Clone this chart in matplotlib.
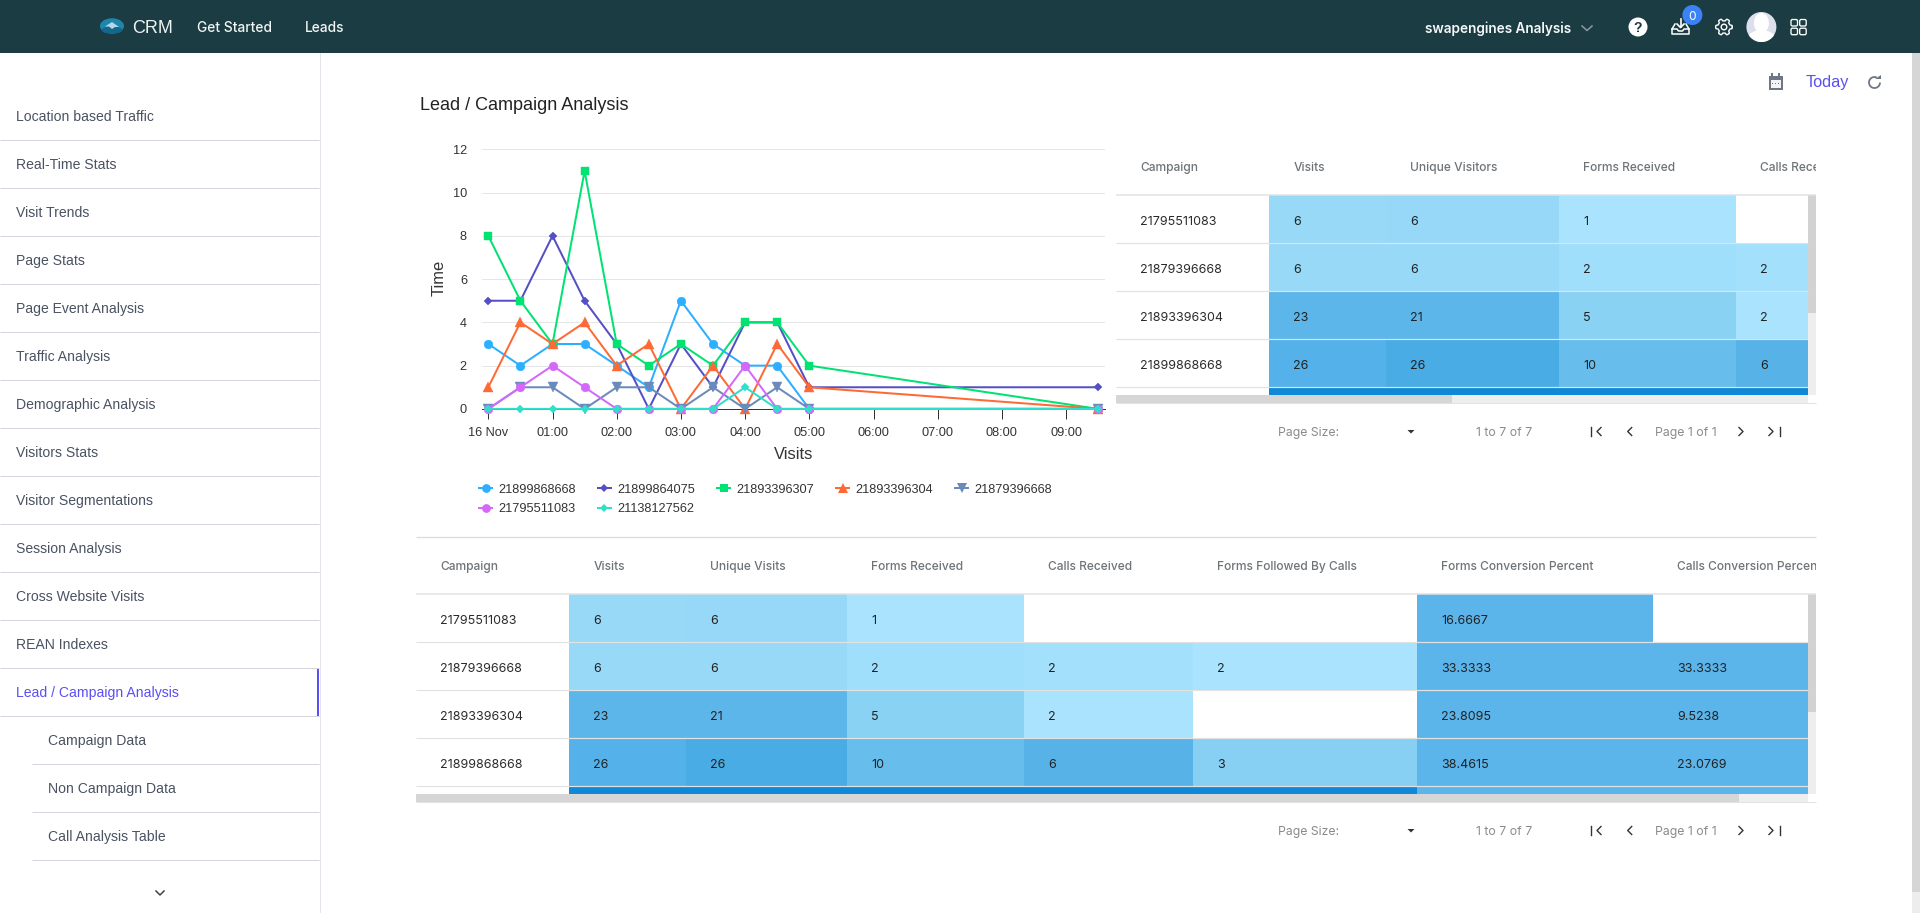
import numpy as np
import matplotlib
matplotlib.use("Agg")
import matplotlib.pyplot as plt
from matplotlib.patches import Rectangle, Circle, Ellipse, FancyBboxPatch, Polygon, Arc

W, H = 1920, 913
# ------------------------------------------------------------- data
hours = [0, 0.5, 1, 1.5, 2, 2.5, 3, 3.5, 4, 4.5, 5, 9.5]
hour_ticks = [0, 1, 2, 3, 4, 5, 6, 7, 8, 9]
hour_labels = ["16 Nov", "01:00", "02:00", "03:00", "04:00", "05:00", "06:00", "07:00", "08:00", "09:00"]
series_names = ["21899868668", "21899864075", "21893396307", "21893396304", "21879396668", "21795511083", "21138127562"]
s_21899868668 = [3, 2, 3, 3, 2, 1, 5, 3, 2, 2, 0, 0]
s_21899864075 = [5, 5, 8, 5, 3, 0, 3, 1, 4, 4, 1, 1]
s_21893396307 = [8, 5, 3, 11, 3, 2, 3, 2, 4, 4, 2, 0]
s_21893396304 = [1, 4, 3, 4, 2, 3, 0, 2, 0, 3, 1, 0]
s_21879396668 = [0, 1, 1, 0, 1, 1, 0, 1, 0, 1, 0, 0]
s_21795511083 = [0, 1, 2, 1, 0, 0, 0, 0, 2, 0, 0, 0]
s_21138127562 = [0, 0, 0, 0, 0, 0, 0, 0, 1, 0, 0, 0]
series_values = [s_21899868668, s_21899864075, s_21893396307, s_21893396304, s_21879396668, s_21795511083, s_21138127562]

campaigns = ["21795511083", "21879396668", "21893396304", "21899868668"]
visits = ["6", "6", "23", "26"]
unique_visits = ["6", "6", "21", "26"]
forms_received = ["1", "2", "5", "10"]
calls_received = ["", "2", "2", "6"]
forms_by_calls = ["", "2", "", "3"]
forms_pct = ["16.6667", "33.3333", "23.8095", "38.4615"]
calls_pct = ["", "33.3333", "9.5238", "23.0769"]

nav_main = ["Location based Traffic", "Real-Time Stats", "Visit Trends", "Page Stats", "Page Event Analysis",
            "Traffic Analysis", "Demographic Analysis", "Visitors Stats", "Visitor Segmentations",
            "Session Analysis", "Cross Website Visits", "REAN Indexes", "Lead / Campaign Analysis"]
nav_sub = ["Campaign Data", "Non Campaign Data", "Call Analysis Table"]

# ------------------------------------------------------------- styles
S_COL = ["#2caffe", "#544fc5", "#00e272", "#fe6a35", "#6b8abc", "#d568fb", "#2ee0ca"]
S_MRK = ["o", "D", "s", "^", "v", "o", "D"]
S_MS = [6.3, 4.3, 6.3, 7.2, 7.2, 6.3, 4.3]
C_VIS = ["#98d9f8", "#98d9f8", "#5db6ea", "#54b1e9"]
C_UNI = ["#97d8f8", "#98d9f8", "#5db6ea", "#49ace5"]
C_FRM = ["#a9e3fd", "#a0dffb", "#89d2f4", "#67bdec"]
C_CAL = [None, "#a3e0fc", "#a9e3fd", "#57b2e7"]
C_FBC = [None, "#a9e3fd", None, "#87cff3"]
C_PCT = ["#5bb4ea", "#5bb4ea", "#5bb4ea", "#5bb4ea"]
C_CPC = [None, "#5bb4ea", "#5bb4ea", "#5bb4ea"]
DARK = "#1088d8"
HEAD = "#1b3c42"
UI_FONT = "Inter"
px = 0.72

fig = plt.figure(figsize=(W / 100, H / 100), dpi=100, facecolor="white")

# ------------------------------------------------------------- chart
L, R, T0, B0 = 482, 1104.8, 149.3, 408.9
ax = fig.add_axes([L / W, 1 - B0 / H, (R - L) / W, (B0 - T0) / H], zorder=3)
ax.patch.set_alpha(0)
pxh = 64.2
ax.set_xlim((L - 488.3) / pxh, (R - 488.3) / pxh)
ax.set_ylim(0, 12)
for i, (vals, col, m, ms) in enumerate(zip(series_values, S_COL, S_MRK, S_MS)):
    ax.plot(hours, vals, color=col, lw=2 * px, marker=m, ms=ms, mec=col, mew=0.3, clip_on=False, zorder=3 + i,
            solid_joinstyle="round")
ax.set_yticks([0, 2, 4, 6, 8, 10, 12])
ax.set_xticks(hour_ticks)
ax.set_xticklabels(hour_labels, fontfamily="Liberation Sans", fontsize=12.8 * px, color="#333333")
ax.tick_params(axis="x", length=10 * px, width=1 * px, color="#333333", pad=8 * px)
ax.tick_params(axis="y", length=0, pad=15 * px)
for t in ax.get_yticklabels():
    t.set_fontfamily("Liberation Sans"); t.set_fontsize(12.8 * px); t.set_color("#333333")
ax.grid(axis="y", color="#e6e6e6", lw=1 * px)
ax.set_axisbelow(True)
for k in ("top", "left", "right"):
    ax.spines[k].set_visible(False)
ax.spines["bottom"].set_color("#333333"); ax.spines["bottom"].set_linewidth(1 * px)
ax.spines["bottom"].set_zorder(2.5)
ax.set_xlabel("Visits", fontfamily="Liberation Sans", fontsize=16.5 * px, color="#333333")
ax.xaxis.set_label_coords((794 - L) / (R - L), -(454.5 - B0) / (B0 - T0))
ax.xaxis.label.set_va("center")
ax.set_ylabel("Time", fontfamily="Liberation Sans", fontsize=16.5 * px, color="#333333")
ax.yaxis.set_label_coords((439.5 - L) / (R - L), (B0 - 278) / (B0 - T0))
ax.yaxis.label.set_va("center")

# ------------------------------------------------------------- overlay in pixel units
ui = fig.add_axes([0, 0, 1, 1], zorder=2)
ui.set_xlim(0, W); ui.set_ylim(H, 0); ui.axis("off")
ov = fig.add_axes([0, 0, 1, 1], zorder=4)
ov.set_xlim(0, W); ov.set_ylim(H, 0); ov.axis("off"); ov.patch.set_alpha(0)


def rect(a, x0, y0, x1, y1, c, z=1, **k):
    a.add_patch(Rectangle((x0, y0), x1 - x0, y1 - y0, fc=c, ec="none", lw=0, zorder=z, antialiased=False, **k))


def hl(a, y, x0, x1, c, z=3, lw=1):
    a.plot([x0, x1], [y, y], color=c, lw=lw * px, zorder=z, solid_capstyle="butt")


def txt(a, x, y, s, size, c="#222222", fam="Liberation Sans", ha="left", w="normal", z=6, clip=None, **k):
    t = a.text(x, y, s, fontsize=size * px, color=c, family=fam, ha=ha, va="center_baseline", fontweight=w, zorder=z, **k)
    if clip is not None:
        t.set_clip_path(clip); t.set_clip_on(True)
    return t


# header bar
rect(ui, 0, 0, W, 53, HEAD)
ui.add_patch(Ellipse((112, 26), 24, 15.5, fc="#1d86ad", ec="none", zorder=2))
ui.add_patch(Ellipse((112, 30), 21, 7, fc="#14668c", ec="none", zorder=2.1))
ui.add_patch(Polygon([[105, 26.5], [112, 22], [119, 27], [115, 27], [112, 29], [109, 26.5]], fc="#b5d8e4", ec="none", zorder=3))
txt(ui, 132.5, 26.5, "CRM", 18, "#eef3f3")
txt(ui, 197, 26, "Get Started", 13.8, "#f2f5f5", UI_FONT, w="medium")
txt(ui, 304.5, 26, "Leads", 13.8, "#f2f5f5", UI_FONT, w="medium")
txt(ui, 1425, 27, "swapengines Analysis", 13.6, "#f5f8f8", UI_FONT, w="semibold")
ui.plot([1582, 1587, 1592], [26, 30.5, 26], color="#8a9a9e", lw=1.1, zorder=3)
ui.add_patch(Circle((1638, 27), 9.5, fc="white", ec="none", zorder=3))
txt(ui, 1638, 27, "?", 14, HEAD, ha="center", w="bold")
# inbox icon
ui.plot([1675, 1672, 1672, 1689, 1689, 1686], [24, 29, 34, 34, 29, 24], color="white", lw=1.1, zorder=3)
ui.plot([1672, 1677, 1678.5, 1682.5, 1684, 1689], [29, 29, 31, 31, 29, 29], color="white", lw=1.1, zorder=3)
ui.plot([1680.5, 1680.5], [19, 27], color="white", lw=1.2, zorder=3)
ui.plot([1677, 1680.5, 1684], [24, 27.5, 24], color="white", lw=1.2, zorder=3)
ui.add_patch(Circle((1692.4, 15), 10, fc="#3b82f6", ec="none", zorder=4))
txt(ui, 1692.4, 15, "0", 12, "white", UI_FONT, ha="center", z=5)
# gear icon
ang = np.linspace(0, 2 * np.pi, 97)
rg = 7.2 + 1.1 * np.clip(2.2 * np.cos(6 * ang), -1, 1)
ui.plot(1724 + rg * np.cos(ang), 27 + rg * np.sin(ang), color="white", lw=1, zorder=3)
ui.add_patch(Circle((1724, 27), 2.8, fc="none", ec="white", lw=1, zorder=3))
# avatar
av = Circle((1761.4, 27), 15, fc="#dde0ea", ec="none", zorder=3)
ui.add_patch(av)
a1 = Ellipse((1761.4, 23), 15, 20, fc="white", ec="none", zorder=3.1); ui.add_patch(a1); a1.set_clip_path(av)
a2 = Ellipse((1761.4, 41), 30, 22, fc="white", ec="none", zorder=3.1); ui.add_patch(a2); a2.set_clip_path(av)
# apps icon
for ax_, ay_ in ((1791, 19.5), (1799.7, 19.5), (1791, 28.2), (1799.7, 28.2)):
    ui.add_patch(FancyBboxPatch((ax_ + 1, ay_ + 1), 4.5, 4.5, boxstyle="round,pad=1,rounding_size=1.5", fc="none", ec="white", lw=0.95, zorder=3))

# sidebar
ui.plot([319.5, 319.5], [53, H], color="#e3e3ea", lw=1 * px, zorder=2)
for i, name in enumerate(nav_main):
    y = 116 + 48 * i
    active = i == len(nav_main) - 1
    txt(ui, 16.3, y - 0.8, name, 14, "#5a4ff3" if active else "#4a5263")
    hl(ui, y + 24.5, 0, 319, "#d5d5de")
rect(ui, 317, 669, 319, 716, "#5a4ff3", z=4)
for i, name in enumerate(nav_sub):
    y = 740 + 48 * i
    txt(ui, 48.3, y - 0.4, name, 14, "#4a5263")
    hl(ui, y + 24.5, 32, 319, "#d5d5de")
ui.plot([156, 160, 164], [891, 895, 891], color="#444444", lw=1.1, zorder=3)

# page title row
txt(ui, 420.5, 103, "Lead / Campaign Analysis", 18, "#222222")
rect(ui, 1768.5, 76, 1782.5, 90.5, "#6f7683", z=3)
rect(ui, 1770.5, 80.5, 1780.5, 88.5, "#f3f4f6", z=3.1)
rect(ui, 1771, 73.5, 1773, 77, "#6f7683", z=3); rect(ui, 1778, 73.5, 1780, 77, "#6f7683", z=3)
for dx in (1772.5, 1775.5, 1778.5):
    rect(ui, dx - .6, 83, dx + .6, 84.5, "#6f7683", z=3.2)
txt(ui, 1805.3, 81.5, "Today", 16.3, "#5a4ff3")
ui.add_patch(Arc((1874.5, 82.5), 11, 11, theta1=0, theta2=295, ec="#6f7683", lw=1.3, zorder=3))
ui.add_patch(Polygon([[1875, 79.5], [1880.5, 79.5], [1880.5, 75]], fc="#6f7683", ec="none", zorder=3))
rect(ui, 1912, 53, 1920, 892, "#d6d6d6", z=2)
rect(ui, 1912, 892, 1920, H, "#ededed", z=2)

# legend
leg_x = [478, 596.8, 716, 835, 954.4, 478, 596.8]
leg_y = [488.3] * 5 + [507.7] * 2
for name, col, m, ms, lx, ly in zip(series_names, S_COL, S_MRK, S_MS, leg_x, leg_y):
    ov.plot([lx, lx + 15], [ly, ly], color=col, lw=2 * px, zorder=5, solid_capstyle="butt")
    ov.plot([lx + 7.5], [ly], marker=m, color=col, ms=ms, mew=0, zorder=5)
    txt(ov, lx + 20.3, ly, name, 12.8, "#333333")


# tables
def table(top_hdr, hdr_line, row_y, head_y, cols, heads, col_data, col_col, fifth, pag_y, x_first, x_left, thumb_end, thumb_h):
    clip = Rectangle((x_left, top_hdr), 1816 - x_left, pag_y - 20 - top_hdr, transform=ui.transData)
    txt(ui, x_first, head_y, "Campaign", 12, "#6f7478", UI_FONT, w="medium")
    hl(ui, hdr_line, x_left, 1816, "#e2e2e2", lw=1.5)
    xs = cols + [1808]
    for j, (head, vals, colr) in enumerate(zip(heads, col_data, col_col)):
        txt(ui, xs[j] + 24.3, head_y, head, 12, "#6f7478", UI_FONT, w="medium", clip=clip)
    for r in range(4):
        y0, y1 = row_y[r] - 48, row_y[r]
        txt(ui, x_first, (y0 + y1) / 2 + 0.8, campaigns[r], 12.5, "#2b2b2b", UI_FONT)
        for j, (vals, colr) in enumerate(zip(col_data, col_col)):
            x0, x1 = xs[j], xs[j + 1]
            if colr[r]:
                rect(ui, x0, y0, x1, y1, colr[r], z=1)
            txt(ui, x0 + 24.3, (y0 + y1) / 2 + 0.8, vals[r], 12.5, "#222222", UI_FONT, clip=clip)
        hl(ui, y1 + 0, x_left, 1808, "#e2e2e2", z=3, lw=1.2)
    for x0, x1, c in fifth:
        rect(ui, x0, row_y[-1] + 1, x1, row_y[-1] + 8, c, z=1)
    # scrollbars
    yb = row_y[-1] + 7.5
    rect(ui, x_left, yb, 1808, yb + 8, "#eeeeee", z=2)
    rect(ui, x_left, yb, thumb_end, yb + 8, "#d6d6d6", z=2.1)
    rect(ui, 1808, hdr_line, 1816, yb, "#eeeeee", z=2)
    rect(ui, 1808, hdr_line, 1816, thumb_h, "#d2d2d2", z=2.1)
    hl(ui, yb + 8.5, x_left, 1816, "#e2e2e2", z=3)
    # pagination
    txt(ui, 1278, pag_y, "Page Size:", 12.3, "#8b8b8b", UI_FONT)
    ui.add_patch(Polygon([[1407.5, pag_y - 1.5], [1414.5, pag_y - 1.5], [1411, pag_y + 2]], fc="#333333", ec="none", zorder=3))
    txt(ui, 1475.5, pag_y, "1 to 7 of 7", 12.3, "#8b8b8b", UI_FONT)
    txt(ui, 1655, pag_y, "Page 1 of 1", 12.3, "#8b8b8b", UI_FONT)
    for cx, d, bar in ((1599, 1, 1591), (1629.7, 1, None), (1741, -1, None), (1771, -1, 1780)):
        ui.plot([cx + 2 * d, cx - 2 * d, cx + 2 * d], [pag_y - 4, pag_y, pag_y + 4], color="#333333", lw=1, zorder=3)
        if bar:
            ui.plot([bar, bar], [pag_y - 4.5, pag_y + 4.5], color="#333333", lw=1, zorder=3)


table(130, 195.5, [243.5, 291.5, 339.5, 387.5], 166.5,
      [1269, 1386, 1559, 1736],
      ["Visits", "Unique Visitors", "Forms Received", "Calls Received"],
      [visits, unique_visits, forms_received, calls_received],
      [C_VIS, C_UNI, C_FRM, C_CAL],
      [(1269, 1808, DARK)], 431.5, 1140, 1116, 1452, 313)

hl(ui, 537.5, 416, 1816, "#dcdcdc", lw=1.3)
table(538, 594.5, [642.5, 690.5, 738.5, 786.5], 565.5,
      [569, 686, 847, 1024, 1193, 1417, 1653],
      ["Visits", "Unique Visits", "Forms Received", "Calls Received", "Forms Followed By Calls",
       "Forms Conversion Percent", "Calls Conversion Percent"],
      [visits, unique_visits, forms_received, calls_received, forms_by_calls, forms_pct, calls_pct],
      [C_VIS, C_UNI, C_FRM, C_CAL, C_FBC, C_PCT, C_CPC],
      [(569, 1417, DARK), (1417, 1808, "#5bb4ea")], 830.5, 440.3, 416, 1738.5, 712.5)

fig.savefig("out.png", dpi=100)
